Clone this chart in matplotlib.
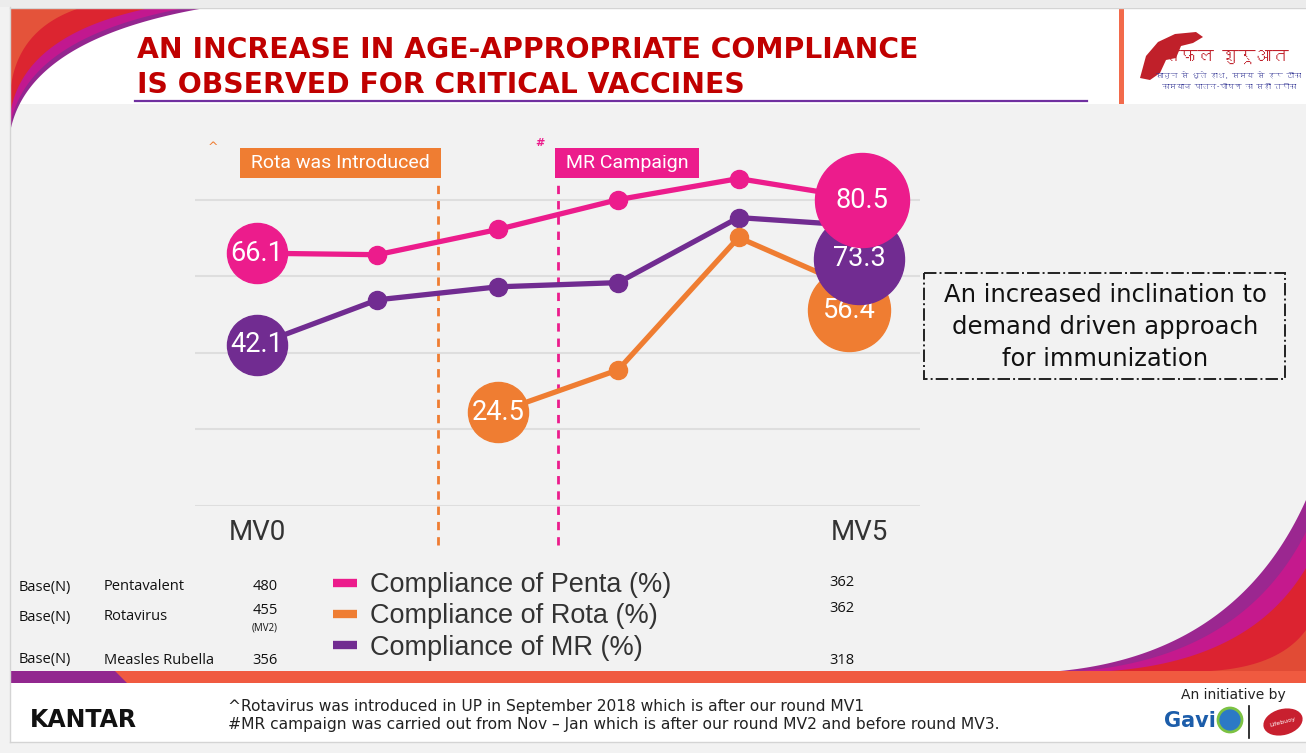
import matplotlib

matplotlib.use("Agg")

import matplotlib.pyplot as plt
import numpy as np
from matplotlib import font_manager
from matplotlib.ft2font import FT2Font
from matplotlib.lines import Line2D
from matplotlib.patches import Circle, Ellipse, Polygon, Rectangle
from matplotlib.transforms import offset_copy

# survey rounds MV0..MV5
rounds = np.arange(6)
round_labels = ["MV0", "", "", "", "", "MV5"]
penta = [66.1, 65.7, 72.3, 80.1, 85.6, 80.5]
mr = [42.1, 53.9, 57.3, 58.4, 75.4, 73.3]
rota = [np.nan, np.nan, 24.5, 35.6, 70.2, 56.4]
series_names = ["Compliance of Penta (%)", "Compliance of Rota (%)", "Compliance of MR (%)"]

events_x = [1.5, 2.5]
events_text = ["Rota was Introduced", "MR Campaign"]
events_mark = ["^", "#"]

base_names = ["Pentavalent", "Rotavirus", "Measles Rubella"]
base_first = ["480", "455", "356"]
base_last = ["362", "362", "318"]

PINK = "#ec1c8c"
ORANGE = "#ef7d32"
PURPLE = "#712c91"
W, H = 1306, 753
CHART_FONT = "Roboto"


def find_family(ch):
    for f in font_manager.fontManager.ttflist:
        try:
            if ord(ch) in FT2Font(f.fname).get_charmap():
                return f.name
        except Exception:
            continue
    return "DejaVu Sans"


def bezier(p0, p1, p2, n=80):
    t = np.linspace(0, 1, n)[:, None]
    p0, p1, p2 = map(np.asarray, (p0, p1, p2))
    return (1 - t) ** 2 * p0 + 2 * (1 - t) * t * p1 + t ** 2 * p2


fig = plt.figure(figsize=(W / 100, H / 100), dpi=100, facecolor="#f2f2f2")

# slide decoration layer in pixel coordinates
bg = fig.add_axes([0, 0, 1, 1], zorder=-1)
bg.set_xlim(0, W)
bg.set_ylim(H, 0)
bg.axis("off")
bg.add_patch(Rectangle((0, 0), W, 7, fc="#ececec", ec="none"))
bg.plot([10, W], [7.5, 7.5], color="#d4d4d4", lw=1)
bg.plot([10, 10], [7, 742], color="#d4d4d4", lw=1)
bg.add_patch(Rectangle((10.5, 8), W, 96, fc="white", ec="none"))

# top-left swoosh
for (tx, ly), col in zip([(195, 122), (175, 116), (140, 104), (70, 82)],
                         ["#93268f", "#c2188f", "#dc2530", "#e4533a"]):
    pts = bezier((10 + tx, 8), (10 + tx * 0.1, 8 + ly * 0.25), (10.5, 8 + ly))
    bg.add_patch(Polygon(np.vstack([[(10.5, 8)], pts]), fc=col, ec="none"))

# bottom-right swoosh
for (ty, lx), col in zip([(500, 1060), (532, 1080), (568, 1110), (630, 1210)],
                         ["#9b2790", "#c5198d", "#dc2330", "#e14b35"]):
    pts = bezier((W, ty), (W - (W - lx) * 0.28, 671 - (671 - ty) * 0.1), (lx, 671))
    bg.add_patch(Polygon(np.vstack([pts, [(W, 671)]]), fc=col, ec="none"))

bg.add_patch(Rectangle((10.5, 671), W, 12, fc="#f05a40", ec="none"))
bg.add_patch(Polygon([(10.5, 671), (115, 671), (127, 683), (10.5, 683)], fc="#92278f", ec="none"))
bg.add_patch(Rectangle((10.5, 683), W, 59, fc="white", ec="none"))
bg.plot([10, W], [742, 742], color="#d4d4d4", lw=1)

# header
bg.add_patch(Rectangle((1119, 8), 5, 96, fc="#f26a4b", ec="none"))
bg.plot([135, 1087], [101, 101], color="#7030a0", lw=1.6)
bg.text(137, 50, "AN INCREASE IN AGE-APPROPRIATE COMPLIANCE", fontsize=20.3,
        fontweight="bold", color="#c00000", va="center", ha="left")
bg.text(137, 85, "IS OBSERVED FOR CRITICAL VACCINES", fontsize=20.3,
        fontweight="bold", color="#c00000", va="center", ha="left")

# campaign logo (top right)
deva = [find_family("स"), "DejaVu Sans"]
hand = [(1140, 78), (1146, 56), (1158, 42), (1175, 34), (1196, 32), (1203, 37),
        (1193, 43), (1181, 46), (1176, 58), (1166, 60), (1160, 73), (1150, 80)]
bg.add_patch(Polygon(hand, fc="#c0202a", ec="none"))
bg.text(1226, 57, "सफल शुरूआत", family=deva, fontsize=12, fontweight="bold",
        color="#c0202a", ha="center", va="center")
bg.text(1229, 75, "साबुन से धुले हाथ, समय से हर टीका", family=deva,
        fontsize=5.2, color="#2e3192", ha="center", va="center")
bg.text(1229, 86, "कामयाब पालन-पोषण का सही तरीका", family=deva,
        fontsize=5.2, color="#2e3192", ha="center", va="center")

# footer
bg.text(30, 720, "KANTAR", fontsize=17, fontweight="bold", color="#111111", va="center", ha="left")
bg.text(228, 706, "^Rotavirus was introduced in UP in September 2018 which is after our round MV1",
        fontsize=11.2, color="#222222", va="center", ha="left")
bg.text(228, 725, "#MR campaign was carried out from Nov \u2013 Jan which is after our round MV2 "
        "and before round MV3.", fontsize=11.2, color="#222222", va="center", ha="left")
bg.text(1233, 695, "An initiative by", fontsize=10, color="#222222", va="center", ha="center")
bg.text(1164, 721, "Gavi", fontsize=15, fontweight="bold", color="#1c5daa", va="center", ha="left")
bg.add_patch(Circle((1230, 720), 12, fc="#2c79c5", ec="#7cc242", lw=2))
bg.plot([1249, 1249], [706, 738], color="#111111", lw=1.2)
bg.add_patch(Ellipse((1283, 722), 40, 26, angle=-15, fc="#c8202f", ec="none"))
bg.text(1283, 722, "Lifebuoy", fontsize=4.5, color="white", rotation=15, ha="center", va="center")

# base table
rows_y = [587, 617, 660]
for y, name, n0 in zip(rows_y, base_names, base_first):
    bg.text(19, y, "Base(N)", fontsize=10.5, family="Open Sans", color="#111111", va="center")
    bg.text(104, y, name, fontsize=10.5, family="Open Sans", color="#111111", va="center")
    if name == "Rotavirus":
        bg.text(265, y - 7, n0, fontsize=10.5, family="Open Sans", color="#111111",
                va="center", ha="center")
        bg.text(265, y + 11, "(MV2)", fontsize=7, family="Open Sans", color="#111111",
                va="center", ha="center")
    else:
        bg.text(265, y, n0, fontsize=10.5, family="Open Sans", color="#111111",
                va="center", ha="center")
for y, n5 in zip([583, 609, 661], base_last):
    bg.text(842, y, n5, fontsize=10.5, family="Open Sans", color="#111111",
            va="center", ha="center")

# comment box
bg.add_patch(Rectangle((924, 273), 361, 106, fc="none", ec="#222222", lw=1.4, ls="-."))
bg.text(1105, 327, "An increased inclination to\ndemand driven approach\nfor immunization",
        fontsize=17.5, color="#111111", ha="center", va="center", linespacing=1.42)

# chart
ax = fig.add_axes([195 / W, 1 - 506 / H, 725 / W, 376 / H])
ax.set_facecolor("none")
ax.set_xlim(-0.515, 5.507)
ax.set_ylim(0, 98.3)
ax.set_yticks([0, 20, 40, 60, 80])
ax.yaxis.grid(True, color="#dedede", lw=1.5)
ax.tick_params(axis="y", left=False, labelleft=False)
ax.set_xticks(rounds)
ax.set_xticklabels(round_labels, family=CHART_FONT, fontsize=20, color="#333333")
ax.tick_params(axis="x", length=0, pad=9)
for s in ax.spines.values():
    s.set_visible(False)

for x, txt, mark, col, side in zip(events_x, events_text, events_mark, [ORANGE, PINK], ["right", "left"]):
    ax.plot([x, x], [-10.2, 85.2], color=col, lw=2, ls=(0, (3, 2.5)), clip_on=False, zorder=2)
    ax.annotate(" " + txt + " ", xy=(x, 89.7), xytext=(-2 if side == "right" else 2, 0),
                textcoords="offset points", ha=side, va="center", fontsize=14, family=CHART_FONT,
                color="white", bbox=dict(boxstyle="square,pad=0.32", fc=col, ec="none"),
                annotation_clip=False)
ax.text(-0.365, 93.6, events_mark[0], color=ORANGE, fontsize=9, ha="center", va="center")
ax.text(2.35, 94.9, events_mark[1], color=PINK, fontsize=8, fontweight="bold", ha="center", va="center")

for vals, col in zip([penta, mr, rota], [PINK, PURPLE, ORANGE]):
    ax.plot(rounds, vals, color=col, lw=3.8, marker="o", ms=13, zorder=3, clip_on=False)

# value bubbles: first available value and last value of each series
bubbles = [
    (rota, ORANGE, 3485, (-10, -20)),
    (mr, PURPLE, 4200, (0, -33)),
    (penta, PINK, 4580, (3, -2)),
]
for i, (vals, col, size, (dx, dy)) in enumerate(bubbles):
    first = int(np.flatnonzero(~np.isnan(vals))[0])
    ax.scatter([rounds[first]], [vals[first]], s=1870, color=col, zorder=5 + i, clip_on=False)
    ax.text(rounds[first], vals[first], f"{vals[first]:.1f}", fontsize=19.5, family=CHART_FONT,
            color="white", ha="center", va="center", zorder=8)
    tr = offset_copy(ax.transData, fig=fig, x=dx, y=dy, units="dots")
    ax.scatter([rounds[-1]], [vals[-1]], s=size, color=col, zorder=5 + i, transform=tr, clip_on=False)
    ax.text(rounds[-1], vals[-1], f"{vals[-1]:.1f}", fontsize=19.5, family=CHART_FONT,
            color="white", ha="center", va="center", transform=tr, zorder=5 + i)

handles = [Line2D([], [], color=c, lw=6, solid_capstyle="butt") for c in [PINK, ORANGE, PURPLE]]
fig.legend(handles, series_names, loc="upper left", bbox_to_anchor=(333 / W, 1 - 572 / H),
           frameon=False, handlelength=0.9, handletextpad=0.45,
           labelspacing=0.2, borderpad=0, borderaxespad=0,
           prop={"family": "Liberation Sans", "size": 19.5})
for t in fig.legends[0].get_texts():
    t.set_color("#333333")

fig.savefig("out.png", dpi=100, facecolor=fig.get_facecolor())
